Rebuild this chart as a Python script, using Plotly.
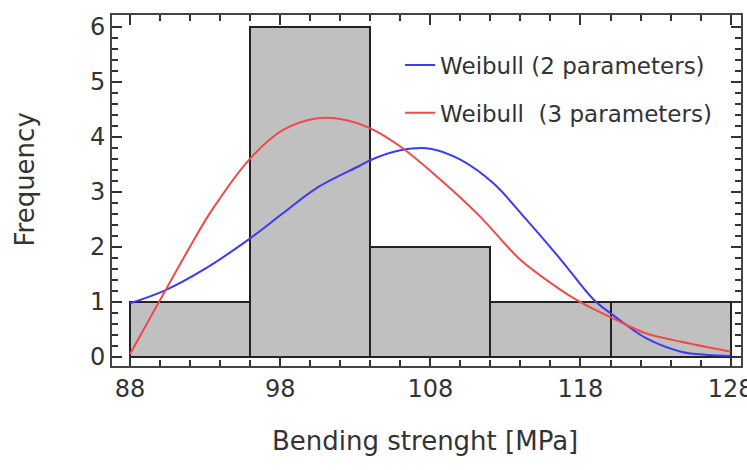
import plotly.graph_objects as go

# Histogram data
bin_centers = [92, 100, 108, 116, 124]
bin_width = 8
counts = [1, 6, 2, 1, 1]

# Weibull (2 parameters) fitted curve
w2_x = [88, 90.3, 92.9, 96, 98.2, 100.4, 103.3, 104, 106, 108, 110, 112.2, 114.4, 116.7, 118.9, 120.2, 122.4, 124.7, 126.5, 128]
w2_y = [0.97, 1.2, 1.58, 2.15, 2.61, 3.06, 3.47, 3.57, 3.75, 3.78, 3.58, 3.15, 2.49, 1.76, 1.03, 0.75, 0.33, 0.09, 0.03, 0.01]

# Weibull (3 parameters) fitted curve
w3_x = [88, 90, 92, 93.3, 96, 98.2, 100.4, 102, 104, 106, 108.7, 111.3, 114, 116.7, 118, 120.2, 122.4, 124.7, 128]
w3_y = [0.05, 1.03, 2.0, 2.6, 3.6, 4.12, 4.33, 4.32, 4.15, 3.82, 3.21, 2.55, 1.76, 1.21, 0.99, 0.69, 0.42, 0.27, 0.09]

x_tick0, x_dtick, x_minor = 88, 10, 2
y_tick0, y_dtick, y_minor = 0, 1, 0.2

FONT = "DejaVu Sans"
TXT = "#333333"
AX = "#333333"

fig = go.Figure()
fig.add_trace(go.Bar(
    x=bin_centers, y=counts, width=bin_width,
    marker=dict(color="#c0c0c0", line=dict(color="#222222", width=2)),
    showlegend=False,
))
fig.add_trace(go.Scatter(
    x=w2_x, y=w2_y, mode="lines", name="Weibull (2 parameters)",
    line=dict(color="#3b3bef", width=2, shape="spline", smoothing=1.0),
    legendgroup="a",
))
fig.add_trace(go.Scatter(
    x=w3_x, y=w3_y, mode="lines", name="Weibull  (3 parameters)",
    line=dict(color="#ee4a4a", width=2, shape="spline", smoothing=1.0),
    legendgroup="b",
))

axis_common = dict(
    showline=True, linecolor="#444444", linewidth=2, mirror="allticks",
    ticks="inside", tickcolor=AX, tickwidth=2, ticklen=10,
    showgrid=False, zeroline=False, tickmode="linear",
    automargin=False, ticklabeloverflow="allow",
    tickfont=dict(family=FONT, size=24, color=TXT),
)

fig.update_layout(
    width=747, height=470,
    margin=dict(l=112, r=6, t=15, b=104),
    paper_bgcolor="white", plot_bgcolor="white",
    bargap=0,
    xaxis=dict(range=[86.8, 128.69], tick0=x_tick0, dtick=x_dtick,
               minor=dict(dtick=x_minor, ticks="inside", ticklen=6,
                          tickcolor=AX, tickwidth=2),
               **axis_common),
    yaxis=dict(range=[-0.17, 6.21], tick0=y_tick0, dtick=y_dtick,
               minor=dict(dtick=y_minor, ticks="inside", ticklen=6,
                          tickcolor=AX, tickwidth=2),
               **axis_common),
    legend=dict(x=0.458, y=0.919, xanchor="left", yanchor="top",
                bgcolor="rgba(0,0,0,0)", tracegroupgap=15,
                font=dict(family=FONT, size=23, color=TXT)),
    annotations=[
        dict(text="Frequency", xref="paper", yref="paper", x=-0.139, y=0.53,
             xanchor="center", yanchor="middle", textangle=-90, showarrow=False,
             font=dict(family=FONT, size=26, color=TXT)),
        dict(text="Bending strenght [MPa]", xref="paper", yref="paper", x=0.497, y=-0.215,
             xanchor="center", yanchor="middle", showarrow=False,
             font=dict(family=FONT, size=26, color=TXT)),
    ],
)

fig.write_html("out.html")
